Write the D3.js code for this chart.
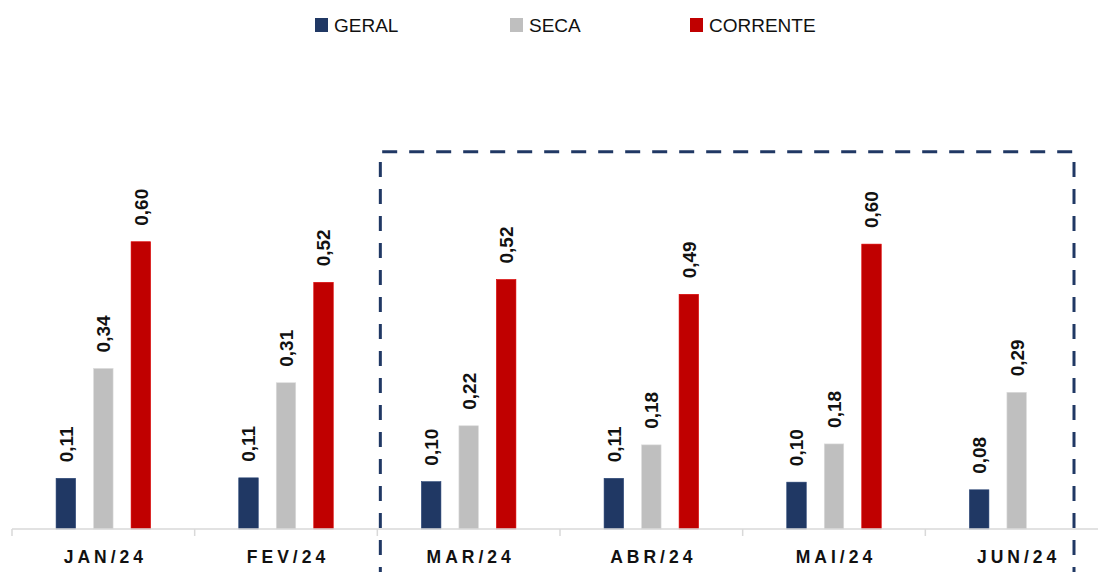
<!DOCTYPE html>
<html>
<head>
<meta charset="utf-8">
<script src="https://cdn.jsdelivr.net/npm/d3@7"></script>
<style>
  body { margin: 0; background: #fff; }
  svg { display: block; }
</style>
</head>
<body>
<div class="chart"></div>
<script>
const months = ['JAN/24', 'FEV/24', 'MAR/24', 'ABR/24', 'MAI/24', 'JUN/24'];
const series = ['GERAL', 'SECA', 'CORRENTE'];
const geral = [0.106, 0.107, 0.099, 0.106, 0.098, 0.082];
const seca = [0.336, 0.306, 0.216, 0.176, 0.178, 0.286];
const corrente = [0.601, 0.516, 0.522, 0.491, 0.596, null];
const colors = ['#203864', '#bfbfbf', '#c00000'];

const W = 1098, H = 572;
const svg = d3.select('.chart').append('svg')
  .attr('width', W)
  .attr('height', H);

const x = d3.scaleBand().domain(months).range([12, 1108]);
const bw = x.bandwidth();
const xSub = d3.scaleBand().domain(series)
  .range([bw / 2 - 47.25, bw / 2 + 47.25])
  .paddingInner(0.48);
const y = d3.scaleLinear().domain([0, 0.7]).range([529, 529 - 0.7 * 478]);

const rows = [];
months.forEach((m, i) => {
  [geral, seca, corrente].forEach((arr, j) => {
    if (arr[i] != null) rows.push({ month: m, key: series[j], value: arr[i], color: colors[j] });
  });
});

const fmt = v => d3.format('.2f')(v).replace('.', ',');

// bars
svg.selectAll('.bar').data(rows).enter().append('rect')
  .attr('class', 'bar')
  .attr('x', d => x(d.month) + xSub(d.key))
  .attr('y', d => y(d.value))
  .attr('width', xSub.bandwidth())
  .attr('height', d => y(0) - y(d.value))
  .attr('fill', d => d.color)
  .attr('stroke', d => d3.color(d.color).brighter(0.4))
  .attr('stroke-width', 0.6);

// value labels, rotated
svg.selectAll('.lbl').data(rows).enter().append('text')
  .attr('class', 'lbl')
  .attr('transform', d => `translate(${x(d.month) + xSub(d.key) + xSub.bandwidth() / 2},${y(d.value) - 16}) rotate(-90)`)
  .attr('dy', '0.36em')
  .attr('font-family', 'Liberation Sans, Arial, sans-serif')
  .attr('font-weight', 'bold')
  .attr('font-size', 19)
  .attr('fill', '#111')
  .text(d => fmt(d.value));

// x axis
const axis = svg.append('g').attr('transform', `translate(0,${y(0)})`);
axis.append('line')
  .attr('x1', x.range()[0]).attr('x2', x.range()[1])
  .attr('stroke', '#d9d9d9').attr('stroke-width', 1.5);
axis.selectAll('.tick').data(months.concat(['end'])).enter().append('line')
  .attr('x1', (d, i) => x.range()[0] + i * x.step())
  .attr('x2', (d, i) => x.range()[0] + i * x.step())
  .attr('y1', 0).attr('y2', 7)
  .attr('stroke', '#d9d9d9').attr('stroke-width', 1.5);
axis.selectAll('.xl').data(months).enter().append('text')
  .attr('x', d => x(d) + bw / 2 + 2)
  .attr('y', 34)
  .attr('text-anchor', 'middle')
  .attr('font-family', 'Liberation Sans, Arial, sans-serif')
  .attr('font-weight', 'bold')
  .attr('font-size', 17.5)
  .attr('letter-spacing', 4)
  .attr('fill', '#111')
  .text(d => d);

// dashed highlight box
const bx1 = x('MAR/24') + 3;
const bx2 = x('JUN/24') + bw - 34;
const by = y(0.789);
svg.append('path')
  .attr('d', `M${bx1},${H + 10} L${bx1},${by} L${bx2},${by} L${bx2},${H + 10}`)
  .attr('fill', 'none')
  .attr('stroke', '#203864')
  .attr('stroke-width', 3)
  .attr('stroke-dasharray', '15,12');

// legend
const legendX = [315, 510, 690];
const legend = svg.append('g');
series.forEach((s, i) => {
  legend.append('rect')
    .attr('x', legendX[i]).attr('y', 18)
    .attr('width', 13).attr('height', 14)
    .attr('fill', colors[i]);
  legend.append('text')
    .attr('x', legendX[i] + 19).attr('y', 32)
    .attr('font-family', 'Liberation Sans, Arial, sans-serif')
    .attr('font-size', 19)
    .attr('fill', '#111')
    .text(s);
});
</script>
</body>
</html>
